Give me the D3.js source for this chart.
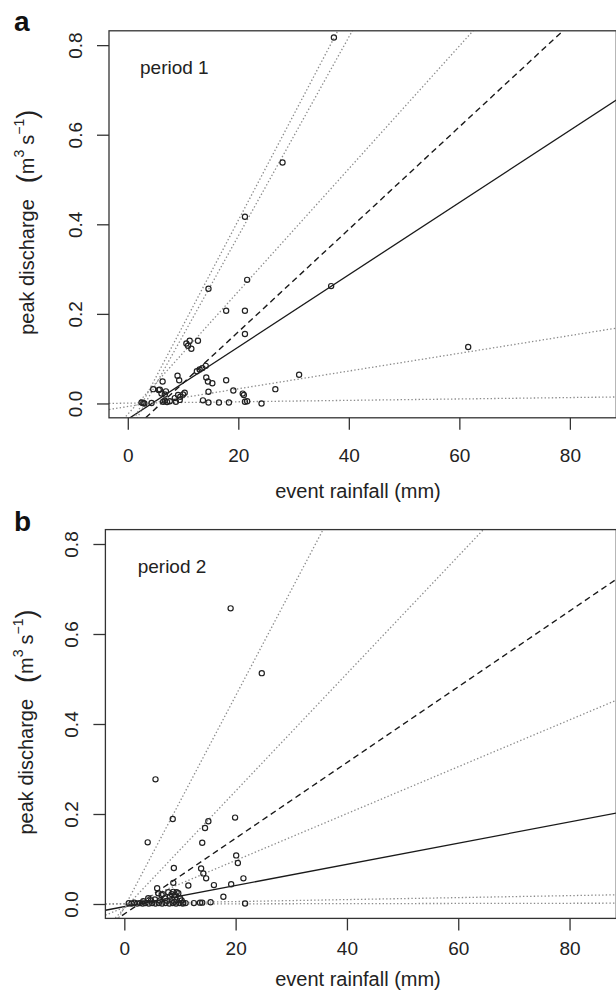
<!DOCTYPE html>
<html>
<head>
<meta charset="utf-8">
<script src="https://cdn.jsdelivr.net/npm/d3@7"></script>
<style>
  body { margin: 0; background: #fff; }
  svg { display: block; font-family: "Liberation Sans", Arial, Helvetica, sans-serif; }
</style>
</head>
<body>
<script>
const WIDTH = 616;
const HEIGHT = 994;

// period 1 events: rainfall (mm) and peak discharge (m3/s)
var rain1 = [2.5, 2.8, 3.0, 4.3, 4.6, 5.6, 5.8, 6.1, 6.3, 6.7, 6.9, 6.4, 6.7, 7.1, 7.6,
  8.5, 9.1, 9.5, 9.0, 9.3, 8.7, 9.4, 10.3, 10.0, 10.6, 10.9, 11.2, 11.5, 12.7, 12.5,
  13.0, 13.5, 14.1, 13.6, 14.2, 14.5, 14.6, 14.6, 14.6, 15.3, 16.5, 17.8, 17.8, 18.3,
  19.1, 20.8, 21.0, 21.2, 21.6, 21.2, 21.2, 21.6, 21.2, 24.2, 26.7, 28.0, 31.0, 36.8,
  37.3, 61.6];
var peak1 = [0.002, 0.001, 0.000, 0.001, 0.032, 0.030, 0.031, 0.022, 0.049, 0.020, 0.027, 0.004, 0.006, 0.003, 0.005,
  0.012, 0.019, 0.015, 0.062, 0.052, 0.004, 0.008, 0.024, 0.020, 0.134, 0.129, 0.140, 0.122, 0.140, 0.072,
  0.076, 0.079, 0.084, 0.007, 0.058, 0.049, 0.002, 0.026, 0.256, 0.045, 0.002, 0.052, 0.207, 0.002,
  0.029, 0.022, 0.019, 0.004, 0.005, 0.155, 0.207, 0.276, 0.417, 0.000, 0.032, 0.538, 0.064, 0.262,
  0.817, 0.126];

// period 2 events
var rain2 = [19.1, 24.7, 5.6, 4.2, 8.7, 19.9, 14.5, 15.1, 14.0, 8.9, 13.8, 14.2, 14.7, 20.1, 20.4,
  21.4, 16.1, 19.2, 11.5, 17.8, 21.7, 8.8, 5.9, 12.5, 13.6, 14.0, 15.5,
  6.1, 6.7, 7.9, 8.8, 9.4, 9.7, 9.1, 8.2, 10.0, 7.3, 9.4, 10.6, 5.5, 4.3, 6.9, 8.5,
  3.4, 4.8, 6.4, 7.7, 9.0, 10.3,
  0.8, 1.3, 1.8, 2.3, 2.8, 3.3, 3.8, 4.4, 5.0, 5.6, 6.2, 6.8, 7.4, 8.1, 8.7, 9.3, 9.9, 10.5, 11.0];
var peak2 = [0.657, 0.513, 0.277, 0.137, 0.189, 0.192, 0.169, 0.184, 0.136, 0.080, 0.079, 0.068, 0.057, 0.108, 0.091,
  0.057, 0.042, 0.044, 0.041, 0.016, 0.001, 0.047, 0.035, 0.002, 0.003, 0.003, 0.004,
  0.024, 0.020, 0.026, 0.027, 0.026, 0.024, 0.020, 0.016, 0.013, 0.013, 0.009, 0.003, 0.010, 0.013, 0.022, 0.022,
  0.006, 0.008, 0.008, 0.007, 0.005, 0.008,
  0.002, 0.001, 0.003, 0.001, 0.002, 0.001, 0.002, 0.001, 0.002, 0.001, 0.002, 0.001, 0.002, 0.001, 0.002, 0.001, 0.002, 0.001, 0.002];

// fitted lines (intercept, slope), one style per line
var lineType = ['solid', 'dashed', 'dotted', 'dotted', 'dotted', 'dotted', 'dotted'];
var icpt1 = [-0.0351, -0.0689, -0.061, -0.070, -0.024, -0.0068, 0.0007];
var slope1 = [0.00806, 0.01144, 0.0235, 0.0222, 0.0137, 0.00198, 0.000156];
var icpt2 = [-0.0059, -0.0223, -0.0073, -0.010, -0.0073, 0.001, 0.0];
var slope2 = [0.002352, 0.008416, 0.0235, 0.01305, 0.005205, 0.00022, 0.00002];

var xTicks = [0, 20, 40, 60, 80];
var yTicks = [0, 0.2, 0.4, 0.6, 0.8];
var yTickLabels = ['0.0', '0.2', '0.4', '0.6', '0.8'];
var xDomain = [-3.4, 88.4];
var yDomain = [-0.032, 0.832];

var panels = [
  {tag: 'a', label: 'period 1', rain: rain1, peak: peak1, icpt: icpt1, slope: slope1,
   left: 109, right: 616.3, top: 30.8, bottom: 417.8, tickText: 462.3, xTitle: 498, yTitleX: 34, tagY: 31, labelY: 74.3, labelX: 140},
  {tag: 'b', label: 'period 2', rain: rain2, peak: peak2, icpt: icpt2, slope: slope2,
   left: 105.4, right: 616.3, top: 529.6, bottom: 918.4, tickText: 955, xTitle: 986, yTitleX: 32.5, tagY: 530.5, labelY: 573, labelX: 137.7}
];

var svg = d3.select('body').append('svg')
  .attr('width', WIDTH)
  .attr('height', HEIGHT);

var drawPanel = function(p, idx) {
  var x = d3.scaleLinear().domain(xDomain).range([p.left, p.right]);
  var y = d3.scaleLinear().domain(yDomain).range([p.bottom, p.top]);
  var g = svg.append('g');

  g.append('clipPath').attr('id', 'clip' + idx)
    .append('rect')
    .attr('x', p.left).attr('y', p.top)
    .attr('width', p.right - p.left).attr('height', p.bottom - p.top);

  var plot = g.append('g').attr('clip-path', 'url(#clip' + idx + ')');

  // regression lines across the whole plot region
  var line = d3.line().x(function(d) { return x(d[0]); }).y(function(d) { return y(d[1]); });
  p.icpt.forEach(function(b, i) {
    var m = p.slope[i];
    var pts = xDomain.map(function(v) { return [v, b + m * v]; });
    var path = plot.append('path')
      .attr('d', line(pts))
      .attr('fill', 'none');
    if (lineType[i] === 'solid') {
      path.attr('stroke', '#1a1a1a').attr('stroke-width', 1.3);
    } else if (lineType[i] === 'dashed') {
      path.attr('stroke', '#1a1a1a').attr('stroke-width', 1.4).attr('stroke-dasharray', '6,4');
    } else {
      path.attr('stroke', '#8c8c8c').attr('stroke-width', 1.3).attr('stroke-dasharray', '1.4,2.2');
    }
  });

  plot.selectAll('circle')
    .data(p.rain)
    .enter()
    .append('circle')
    .attr('cx', function(d) { return x(d); })
    .attr('cy', function(d, i) { return y(p.peak[i]); })
    .attr('r', 2.6)
    .attr('fill', 'none')
    .attr('stroke', '#222')
    .attr('stroke-width', 1.2);

  // box
  g.append('rect')
    .attr('x', p.left).attr('y', p.top)
    .attr('width', p.right - p.left).attr('height', p.bottom - p.top)
    .attr('fill', 'none').attr('stroke', '#333').attr('stroke-width', 1.3);

  // axes
  var xAxis = g.append('g')
    .attr('transform', 'translate(0,' + p.bottom + ')')
    .call(d3.axisBottom(x).tickValues(xTicks).tickSize(12).tickSizeOuter(0).tickFormat(d3.format('d')));
  xAxis.select('.domain').remove();
  xAxis.selectAll('line').attr('stroke', '#333').attr('stroke-width', 1.3);
  xAxis.selectAll('text')
    .attr('y', p.tickText - p.bottom).attr('dy', 0)
    .attr('font-size', 19).attr('fill', '#222');

  var yAxis = g.append('g')
    .attr('transform', 'translate(' + p.left + ',0)')
    .call(d3.axisLeft(y).tickValues(yTicks).tickSize(12).tickSizeOuter(0)
      .tickFormat(function(d, i) { return yTickLabels[i]; }));
  yAxis.select('.domain').remove();
  yAxis.selectAll('line').attr('stroke', '#333').attr('stroke-width', 1.3);
  yAxis.selectAll('text')
    .attr('transform', 'rotate(-90)')
    .attr('x', 0).attr('y', -27.5).attr('dy', 0)
    .attr('text-anchor', 'middle')
    .attr('font-size', 19).attr('fill', '#222');

  // titles
  g.append('text')
    .attr('x', 358).attr('y', p.xTitle)
    .attr('text-anchor', 'middle')
    .attr('font-size', 20).attr('fill', '#222')
    .text('event rainfall (mm)');

  var cy = (p.top + p.bottom) / 2 - 2;
  var yt = g.append('text')
    .attr('transform', 'translate(' + p.yTitleX + ',' + cy + ') rotate(-90)')
    .attr('text-anchor', 'middle')
    .attr('font-size', 20).attr('fill', '#222');
  yt.append('tspan').text('peak discharge');
  yt.append('tspan').attr('dx', 16).attr('font-size', 27).attr('dy', 2).text('(');
  yt.append('tspan').attr('dy', -2).text('m');
  yt.append('tspan').attr('font-size', 14).attr('dy', -10).text('3');
  yt.append('tspan').attr('dy', 10).attr('dx', 5).text('s');
  yt.append('tspan').attr('font-size', 14).attr('dy', -10).text('\u22121');
  yt.append('tspan').attr('font-size', 27).attr('dy', 12).text(')');

  g.append('text')
    .attr('x', 14).attr('y', p.tagY)
    .attr('font-size', 28).attr('font-weight', 'bold').attr('fill', '#111')
    .text(p.tag);

  g.append('text')
    .attr('x', p.labelX).attr('y', p.labelY)
    .attr('font-size', 19).attr('fill', '#222')
    .text(p.label);
};

panels.forEach(drawPanel);
</script>
</body>
</html>
